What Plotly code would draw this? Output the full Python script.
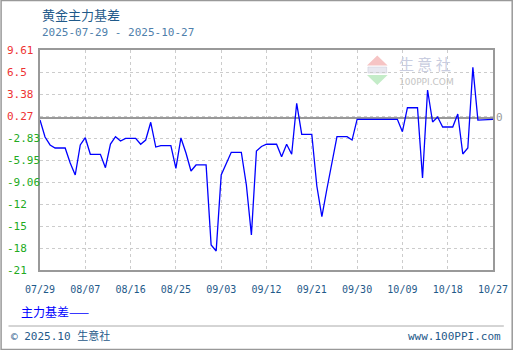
import plotly.graph_objects as go
import pandas as pd

# ---- data ----
start_date = "2025-07-29"
end_date = "2025-10-27"
basis = [
    -0.30, -2.70, -3.83, -4.26, -4.26, -4.26, -6.38, -8.08, -3.83, -2.80,
    -5.15, -5.15, -5.15, -7.05, -3.70, -2.66, -3.27, -2.89, -2.89, -2.89,
    -3.73, -3.13, -0.62, -4.12, -3.93, -3.93, -3.93, -7.13, -2.84, -4.97,
    -7.51, -6.66, -6.66, -6.66, -17.98, -18.83, -8.08, -6.38, -4.87, -4.87,
    -4.87, -9.49, -16.57, -4.68, -4.05, -3.73, -3.73, -3.73, -5.49, -3.73,
    -5.15, 2.07, -2.32, -2.32, -2.32, -9.64, -13.98, -10.06, -6.24, -2.66,
    -2.66, -2.66, -3.13, -0.20, -0.20, -0.20, -0.20, -0.20, -0.20, -0.20,
    -0.20, -0.20, -1.95, 1.44, 1.44, 1.44, -8.50, 3.95, -0.58, 0.13,
    -1.29, -1.29, -1.29, 0.55, -5.11, -4.26, 7.16, -0.30, -0.30, -0.30,
    -0.20,
]
dates = pd.date_range(start_date, end_date, freq="D")
x_tick_dates = pd.date_range(start_date, end_date, freq="9D")
x_tick_labels = [d.strftime("%m/%d") for d in x_tick_dates]
y_tick_vals = [9.61, 6.497, 3.384, 0.27, -2.843, -5.957, -9.07, -12.183, -15.297, -18.41, -21.523]
y_tick_labels = ["9.61", "6.5", "3.38", "0.27", "-2.83", "-5.95", "-9.06", "-12", "-15", "-18", "-21"]

title_text = "黄金主力基差"
subtitle_text = f"{start_date} - {end_date}"
legend_text = "主力基差——"
footer_left = "© 2025.10 生意社"
footer_right = "www.100PPI.com"

# ---- layout helpers (pixel -> paper) ----
W, H = 520, 350
L, R, T, B = 40, 20, 50, 80
PW, PH = W - L - R, H - T - B


def px(x):
    return (x - L) / PW


def py(y):
    return (H - B - y) / PH


MONO = "DejaVu Sans Mono, Noto Sans CJK SC, monospace"
CJK = "Noto Sans CJK SC, DejaVu Sans, sans-serif"

fig = go.Figure()
fig.add_trace(go.Scatter(
    x=dates, y=basis, mode="lines",
    line=dict(color="#0000ff", width=1.3),
    showlegend=False, hoverinfo="skip",
))

annotations = []
# y tick labels (left aligned, coloured by sign)
for v, t in zip(y_tick_vals, y_tick_labels):
    annotations.append(dict(
        xref="paper", yref="y", x=px(4), y=v, xanchor="left", yanchor="middle",
        text=t, showarrow=False,
        font=dict(family=MONO, size=11, color="#ee3333" if v >= 0 else "#22aa22"),
    ))
# zero label on right
annotations.append(dict(
    xref="paper", yref="y", x=px(507), y=0, xanchor="center", yanchor="middle",
    text="0", showarrow=False, font=dict(family=MONO, size=11, color="#999999"),
))
# title / subtitle
annotations.append(dict(
    xref="paper", yref="paper", x=px(40), y=py(14), xanchor="left", yanchor="middle",
    text=title_text, showarrow=False, font=dict(family=CJK, size=13, color="#1f5a8a"),
))
annotations.append(dict(
    xref="paper", yref="paper", x=px(40), y=py(33), xanchor="left", yanchor="middle",
    text=subtitle_text, showarrow=False, font=dict(family=MONO, size=11, color="#4f7fab"),
))
# legend text
annotations.append(dict(
    xref="paper", yref="paper", x=px(19), y=py(311), xanchor="left", yanchor="middle",
    text=legend_text, showarrow=False, font=dict(family=CJK, size=12, color="#0000ff"),
))
# footer
annotations.append(dict(
    xref="paper", yref="paper", x=px(9), y=py(336), xanchor="left", yanchor="middle",
    text=footer_left, showarrow=False, font=dict(family=MONO, size=11, color="#1f5a8a"),
))
annotations.append(dict(
    xref="paper", yref="paper", x=px(510), y=py(336), xanchor="right", yanchor="middle",
    text=footer_right, showarrow=False, font=dict(family=MONO, size=11, color="#1f5a8a"),
))
# watermark
annotations.append(dict(
    xref="paper", yref="paper", x=px(431), y=py(63), xanchor="center", yanchor="middle",
    text="生 意 社", showarrow=False, font=dict(family=CJK, size=15, color="#c9cde0"),
))
annotations.append(dict(
    xref="paper", yref="paper", x=px(432), y=py(81.5), xanchor="center", yanchor="middle",
    text="100PPI.COM", showarrow=False, font=dict(family="DejaVu Sans, sans-serif", size=9, color="#c4c4c4"),
))

shapes = []
# outer border
shapes.append(dict(type="rect", xref="paper", yref="paper",
                   x0=px(0.5), x1=px(519.5), y0=py(0.5), y1=py(349.5),
                   line=dict(color="#999999", width=1.5), layer="above"))
# footer separator
shapes.append(dict(type="line", xref="paper", yref="paper",
                   x0=px(8), x1=px(511), y0=py(326), y1=py(326),
                   line=dict(color="#aaaaaa", width=1)))
# watermark logo triangles
shapes.append(dict(type="path", xref="paper", yref="paper",
                   path=f"M{px(372)},{py(65.5)} L{px(393)},{py(65.5)} L{px(382.5)},{py(55.5)} Z",
                   fillcolor="#f6c4c4", line=dict(width=0), layer="below"))
shapes.append(dict(type="rect", xref="paper", yref="paper",
                   x0=px(373), x1=px(392), y0=py(73), y1=py(67),
                   fillcolor="#e8e8f0", line=dict(color="#c8c8d8", width=0.5), layer="below"))
shapes.append(dict(type="path", xref="paper", yref="paper",
                   path=f"M{px(372)},{py(75)} L{px(393)},{py(75)} L{px(382.5)},{py(85)} Z",
                   fillcolor="#c4ecc8", line=dict(width=0), layer="below"))

fig.update_layout(
    width=W, height=H,
    margin=dict(l=L, r=R, t=T, b=B),
    paper_bgcolor="white", plot_bgcolor="white",
    annotations=annotations, shapes=shapes,
    showlegend=False,
    xaxis=dict(
        range=[dates[0], dates[-1]],
        tickvals=list(x_tick_dates), ticktext=x_tick_labels,
        showgrid=True, gridcolor="#cccccc", griddash="3px,3px", gridwidth=1,
        showline=True, mirror=True, linecolor="#999999", linewidth=1.5,
        ticks="", ticklabelstandoff=9,
        tickfont=dict(family=MONO, size=10, color="#1f5a8a"),
        zeroline=False, fixedrange=True,
    ),
    yaxis=dict(
        range=[y_tick_vals[-1], y_tick_vals[0]],
        tickvals=y_tick_vals, showticklabels=False,
        showgrid=True, gridcolor="#cccccc", griddash="3px,3px", gridwidth=1,
        showline=True, mirror=True, linecolor="#999999", linewidth=1.5,
        ticks="",
        zeroline=True, zerolinecolor="#999999", zerolinewidth=1.5,
        fixedrange=True,
    ),
)

fig.write_html("out.html")
